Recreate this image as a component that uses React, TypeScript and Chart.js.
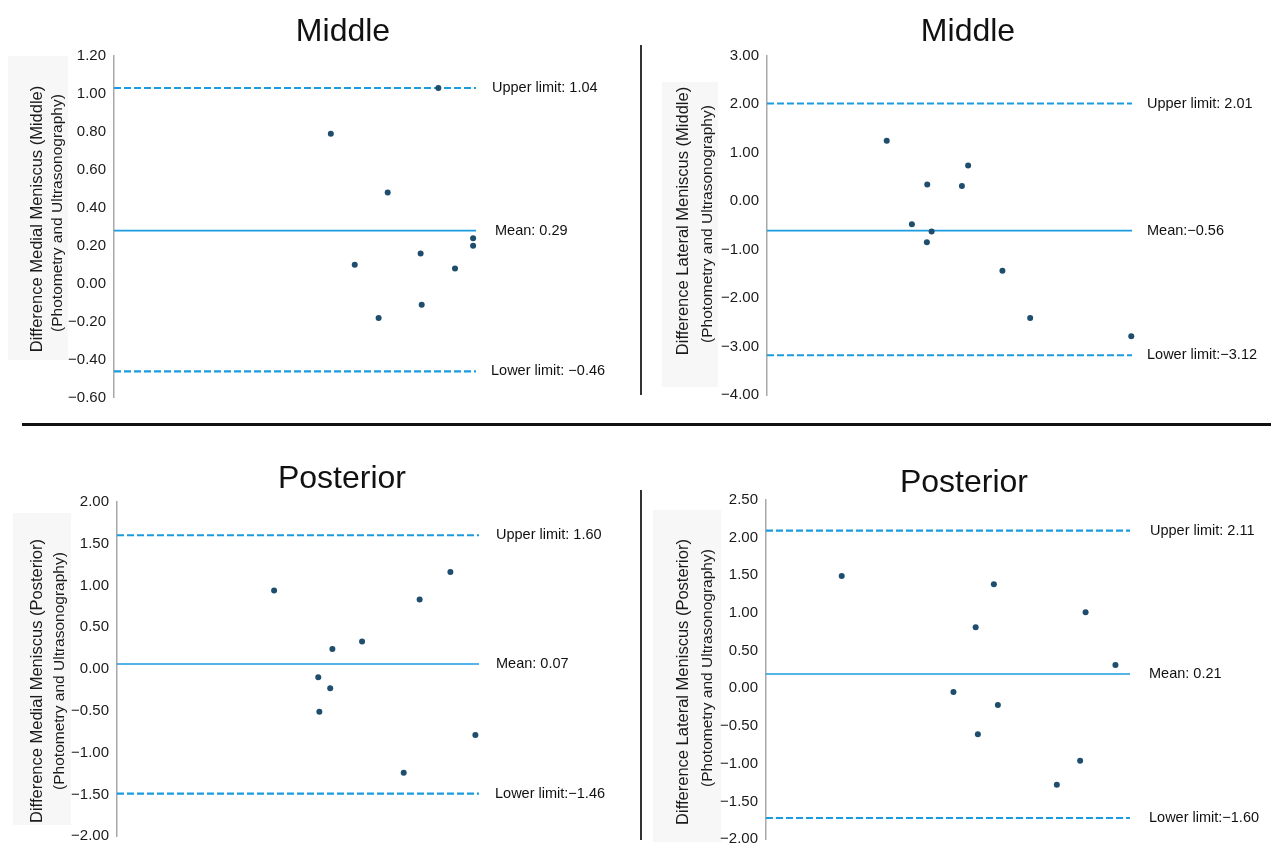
import React, { useEffect, useRef } from "react";
import { Chart, registerables } from "chart.js";

Chart.register(...registerables);

const FONT = "'Liberation Sans', Arial, Helvetica, sans-serif";

// ---- Data (x = position along hidden mean axis, y = difference) ----
// Panel 1: Medial meniscus, middle
const mmX = [59.9, 66.5, 73.1, 75.6, 84.7, 85.0, 89.6, 94.2, 99.2, 99.2];
const mmY = [0.79, 0.10, -0.18, 0.48, 0.16, -0.11, 1.03, 0.08, 0.24, 0.20];
const mmLines = [1.03, 0.28, -0.46];
const mmLabels = ["Upper limit: 1.04", "Mean: 0.29", "Lower limit: \u22120.46"];

// Panel 2: Lateral meniscus, middle
const lmX = [32.8, 39.7, 43.9, 43.8, 45.1, 53.4, 55.1, 64.5, 72.1, 99.8];
const lmY = [1.24, -0.48, 0.34, -0.85, -0.63, 0.31, 0.73, -1.44, -2.41, -2.79];
const lmLines = [2.01, -0.61, -3.18];
const lmLabels = ["Upper limit: 2.01", "Mean:\u22120.56", "Lower limit:\u22123.12"];

// Panel 3: Medial meniscus, posterior
const mpX = [43.4, 55.6, 55.9, 58.9, 59.5, 67.7, 79.2, 83.6, 92.1, 99.0];
const mpY = [0.94, -0.10, -0.51, -0.23, 0.24, 0.33, -1.24, 0.83, 1.16, -0.79];
const mpLines = [1.60, 0.06, -1.49];
const mpLabels = ["Upper limit: 1.60", "Mean: 0.07", "Lower limit:\u22121.46"];

// Panel 4: Lateral meniscus, posterior
const lpX = [20.8, 51.5, 57.6, 58.2, 62.6, 63.7, 79.9, 86.3, 87.8, 96.0];
const lpY = [1.49, -0.05, 0.81, -0.61, 1.38, -0.22, -1.28, -0.96, 1.01, 0.31];
const lpLines = [2.09, 0.19, -1.72];
const lpLabels = ["Upper limit: 2.11", "Mean: 0.21", "Lower limit:\u22121.60"];

const POINT_COLOR = "#1e4d6d";
const LINE_COLOR = "#1b9be0";

const fmt = (v: number) => {
  const r = Math.round(v * 100) / 100;
  if (r === 0) return "0.00";
  return (r < 0 ? "\u2212" : "") + Math.abs(r).toFixed(2);
};

type PanelCfg = {
  left: number; top: number; w: number; h: number;
  axisWidth: number;
  pad: { top: number; right: number; bottom: number; left: number };
  yMin: number; yMax: number; step: number;
  xs: number[]; ys: number[];
  lines: number[]; labels: string[]; labelOffsets: number[];
  title: string; titleCx: number; titleBase: number;
  box: { x: number; y: number; w: number; h: number };
  axisTitle1: string; axisTitle2: string;
  at1x: number; at2x: number; at1y: number; at2y: number;
};

const panels: PanelCfg[] = [
  {
    left: 0, top: 0, w: 640, h: 420, axisWidth: 114,
    pad: { top: 55.7, right: 164, bottom: 22.1, left: 0 },
    yMin: -0.6, yMax: 1.2, step: 0.2,
    xs: mmX, ys: mmY, lines: mmLines, labels: mmLabels, labelOffsets: [16, 19, 15],
    title: "Middle", titleCx: 343, titleBase: 41,
    box: { x: 8, y: 56, w: 60, h: 304 },
    axisTitle1: "Difference Medial Meniscus (Middle)",
    axisTitle2: "(Photometry and Ultrasonography)",
    at1x: 37, at2x: 58, at1y: 219, at2y: 213,
  },
  {
    left: 640, top: 0, w: 638, h: 420, axisWidth: 127,
    pad: { top: 55.5, right: 146, bottom: 25, left: 0 },
    yMin: -4, yMax: 3, step: 1,
    xs: lmX, ys: lmY, lines: lmLines, labels: lmLabels, labelOffsets: [15, 15, 15],
    title: "Middle", titleCx: 968, titleBase: 41,
    box: { x: 662, y: 82, w: 56, h: 305 },
    axisTitle1: "Difference Lateral Meniscus (Middle)",
    axisTitle2: "(Photometry and Ultrasonography)",
    at1x: 683, at2x: 708, at1y: 221, at2y: 224,
  },
  {
    left: 0, top: 430, w: 640, h: 430, axisWidth: 117,
    pad: { top: 71.8, right: 161, bottom: 23.8, left: 0 },
    yMin: -2, yMax: 2, step: 0.5,
    xs: mpX, ys: mpY, lines: mpLines, labels: mpLabels, labelOffsets: [17, 17, 16],
    title: "Posterior", titleCx: 342, titleBase: 488,
    box: { x: 13, y: 513, w: 58, h: 312 },
    axisTitle1: "Difference Medial Meniscus (Posterior)",
    axisTitle2: "(Photometry and Ultrasonography)",
    at1x: 37, at2x: 60, at1y: 681, at2y: 671,
  },
  {
    left: 640, top: 430, w: 638, h: 430, axisWidth: 126,
    pad: { top: 69.8, right: 148, bottom: 20.9, left: 0 },
    yMin: -2, yMax: 2.5, step: 0.5,
    xs: lpX, ys: lpY, lines: lpLines, labels: lpLabels, labelOffsets: [20, 19, 19],
    title: "Posterior", titleCx: 964, titleBase: 492,
    box: { x: 653, y: 510, w: 68, h: 332 },
    axisTitle1: "Difference Lateral Meniscus (Posterior)",
    axisTitle2: "(Photometry and Ultrasonography)",
    at1x: 683, at2x: 708, at1y: 682, at2y: 668,
  },
];

function Panel({ cfg }: { cfg: PanelCfg }) {
  const ref = useRef<HTMLCanvasElement | null>(null);
  useEffect(() => {
    const canvas = ref.current;
    if (!canvas) return;
    const ox = cfg.left;
    const oy = cfg.top;
    const decor = {
      id: "decor",
      beforeDraw(chart: any) {
        const ctx = chart.ctx;
        ctx.save();
        ctx.fillStyle = "#f7f7f7";
        ctx.fillRect(cfg.box.x - ox, cfg.box.y - oy, cfg.box.w, cfg.box.h);
        ctx.restore();
      },
      afterDraw(chart: any) {
        const ctx = chart.ctx;
        const ys = chart.scales.y;
        ctx.save();
        ctx.fillStyle = "#111";
        ctx.font = `32px ${FONT}`;
        ctx.textAlign = "center";
        ctx.textBaseline = "alphabetic";
        ctx.fillText(cfg.title, cfg.titleCx - ox, cfg.titleBase - oy);

        ctx.fillStyle = "#1a1a1a";
        ctx.save();
        ctx.translate(cfg.at1x - ox, cfg.at1y - oy);
        ctx.rotate(-Math.PI / 2);
        ctx.textBaseline = "middle";
        ctx.font = `16.5px ${FONT}`;
        ctx.fillText(cfg.axisTitle1, 0, 0);
        ctx.restore();
        ctx.save();
        ctx.translate(cfg.at2x - ox, cfg.at2y - oy);
        ctx.rotate(-Math.PI / 2);
        ctx.textBaseline = "middle";
        ctx.font = `15.5px ${FONT}`;
        ctx.fillText(cfg.axisTitle2, 0, 0);
        ctx.restore();

        ctx.font = `14.5px ${FONT}`;
        ctx.textAlign = "left";
        ctx.textBaseline = "middle";
        ctx.fillStyle = "#111";
        cfg.lines.forEach((v, i) => {
          const py = ys.getPixelForValue(v);
          ctx.fillText(cfg.labels[i], chart.chartArea.right + cfg.labelOffsets[i], py);
        });
        ctx.restore();
      },
    };

    const lineData = (v: number) => [{ x: 0, y: v }, { x: 100, y: v }];
    const chart = new Chart(canvas, {
      type: "scatter",
      data: {
        datasets: [
          {
            data: cfg.xs.map((x, i) => ({ x, y: cfg.ys[i] })),
            backgroundColor: POINT_COLOR,
            borderWidth: 0,
            pointRadius: 3,
            clip: false,
          } as any,
          {
            data: lineData(cfg.lines[0]),
            showLine: true, pointRadius: 0, borderColor: LINE_COLOR,
            borderWidth: 2.2, borderDash: [7, 3],
          },
          {
            data: lineData(cfg.lines[1]),
            showLine: true, pointRadius: 0, borderColor: LINE_COLOR,
            borderWidth: 1.6,
          },
          {
            data: lineData(cfg.lines[2]),
            showLine: true, pointRadius: 0, borderColor: LINE_COLOR,
            borderWidth: 2.2, borderDash: [7, 3],
          },
        ],
      },
      options: {
        animation: false,
        responsive: false,
        maintainAspectRatio: false,
        events: [],
        layout: { padding: cfg.pad },
        plugins: { legend: { display: false }, tooltip: { enabled: false }, title: { display: false } },
        scales: {
          x: { type: "linear", display: false, min: 0, max: 100 },
          y: {
            type: "linear",
            min: cfg.yMin,
            max: cfg.yMax,
            afterFit: (s: any) => { s.width = cfg.axisWidth; },
            grid: { display: false, drawTicks: false },
            border: { display: true, color: "#a8a8a8", width: 1.5 },
            ticks: {
              stepSize: cfg.step,
              padding: 8,
              color: "#1a1a1a",
              font: { family: FONT, size: 15 },
              callback: (v: any) => fmt(Number(v)),
            },
          },
        },
      },
      plugins: [decor],
    });
    return () => chart.destroy();
  }, [cfg]);
  return (
    <canvas
      ref={ref}
      width={cfg.w}
      height={cfg.h}
      style={{ position: "absolute", left: cfg.left, top: cfg.top, width: cfg.w, height: cfg.h }}
    />
  );
}

export default function App() {
  useEffect(() => {
    document.body.style.margin = "0";
  }, []);
  return (
    <div style={{ position: "absolute", left: 0, top: 0, width: 1278, height: 846, overflow: "hidden", background: "#fff" }}>
      <div style={{ position: "absolute", left: 22, top: 423, width: 1249, height: 3, background: "#111" }} />
      <div style={{ position: "absolute", left: 640, top: 45, width: 1.5, height: 350, background: "#333" }} />
      <div style={{ position: "absolute", left: 640, top: 490, width: 1.5, height: 350, background: "#333" }} />
      {panels.map((p, i) => (
        <Panel key={i} cfg={p} />
      ))}
    </div>
  );
}
